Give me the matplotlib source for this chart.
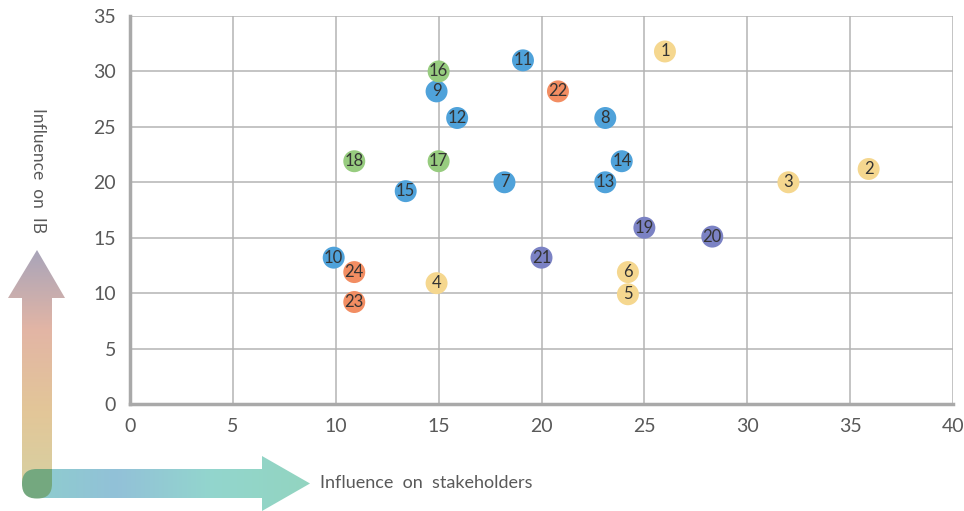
import numpy as np
import matplotlib.pyplot as plt
from matplotlib.patches import Polygon, FancyBboxPatch
from matplotlib.colors import LinearSegmentedColormap

plt.rcParams['font.family'] = ['Lato', 'DejaVu Sans']

# stakeholder positions
ids = list(range(1, 25))
x_vals = [26.0, 35.9, 32.0, 14.9, 24.2, 24.2, 18.2, 23.1, 14.9, 9.9, 19.1, 15.9,
          23.1, 23.9, 13.4, 15.0, 15.0, 10.9, 25.0, 28.3, 20.0, 20.8, 10.9, 10.9]
y_vals = [31.8, 21.2, 20.0, 10.9, 9.9, 11.9, 20.0, 25.8, 28.2, 13.2, 31.0, 25.8,
          20.0, 21.9, 19.2, 30.0, 21.9, 21.9, 15.9, 15.1, 13.2, 28.2, 9.2, 11.9]
groups = ['y', 'y', 'y', 'y', 'y', 'y', 'b', 'b', 'b', 'b', 'b', 'b',
          'b', 'b', 'b', 'g', 'g', 'g', 'p', 'p', 'p', 'o', 'o', 'o']
palette = {'y': '#f5d78f', 'b': '#4fa2da', 'g': '#97cc7f', 'p': '#7b82c4', 'o': '#f28d62'}

x_ticks = [0, 5, 10, 15, 20, 25, 30, 35, 40]
y_ticks = [0, 5, 10, 15, 20, 25, 30, 35]

W, H = 964, 511
fig = plt.figure(figsize=(W / 100, H / 100), dpi=100)

# gradient arrows drawn in pixel coordinates
bg = fig.add_axes([0, 0, 1, 1])
bg.set_xlim(0, W)
bg.set_ylim(H, 0)
bg.axis('off')

vcmap = LinearSegmentedColormap.from_list('v', ['#a7a4ba', '#e2b5a5', '#e3c698', '#d6d1a2'])
hcmap = LinearSegmentedColormap.from_list('h', ['#8dcfcc', '#92c1d8', '#93d6cd', '#92d4c0'])

varrow = [(22, 484), (22, 298), (8, 298), (37, 250), (65, 298), (52, 298), (52, 484)]
grad = np.linspace(0, 1, 256).reshape(-1, 1)
im = bg.imshow(grad, cmap=vcmap, extent=(5, 68, 492, 248), aspect='auto', zorder=1)
im.set_clip_path(Polygon(varrow, closed=True, transform=bg.transData))

harrow = [(37, 469), (262, 469), (262, 456), (310, 483.5), (262, 511), (262, 498), (37, 498)]
hgrad = np.linspace(0, 1, 256).reshape(1, -1)
im2 = bg.imshow(hgrad, cmap=hcmap, extent=(20, 312, 512, 454), aspect='auto', zorder=2)
im2.set_clip_path(Polygon(harrow, closed=True, transform=bg.transData))
# rounded corner where the two arrows meet
bg.add_patch(FancyBboxPatch((22, 469), 30, 29.5, boxstyle='round,pad=0,rounding_size=14.5',
                            fc='#74a87f', ec='none', zorder=3))
bg.add_patch(Polygon([(37, 469), (52, 469), (52, 484), (37, 484)], fc='#74a87f', ec='none', zorder=3))

bg.text(38, 170, 'Influence  on  IB', rotation=-90, ha='center', va='center',
        fontsize=12.5, color='#595959')
bg.text(320, 483, 'Influence  on  stakeholders', ha='left', va='center',
        fontsize=13, color='#595959')

# main chart
ax = fig.add_axes([130 / W, 1 - 404 / H, (953 - 130) / W, (404 - 16) / H])
ax.set_xlim(0, 40)
ax.set_ylim(0, 35)
ax.set_xticks(x_ticks)
ax.set_yticks(y_ticks)
ax.grid(True, color='#b4b4b4', linewidth=1.1)
ax.set_axisbelow(True)
for s in ['top', 'right']:
    ax.spines[s].set_visible(False)
for s in ['left', 'bottom']:
    ax.spines[s].set_color('#a9a9a9')
    ax.spines[s].set_linewidth(2.5)
ax.tick_params(length=0, labelsize=14, labelcolor='#595959', pad=10)
ax.set_facecolor('none')

ax.scatter(x_vals, y_vals, s=250, c=[palette[g] for g in groups], edgecolors='none', zorder=3)
for i, x, y in zip(ids, x_vals, y_vals):
    ax.text(x, y, str(i), ha='center', va='center', fontsize=12, color='#333333', zorder=4)

fig.savefig('out.png', dpi=100)
